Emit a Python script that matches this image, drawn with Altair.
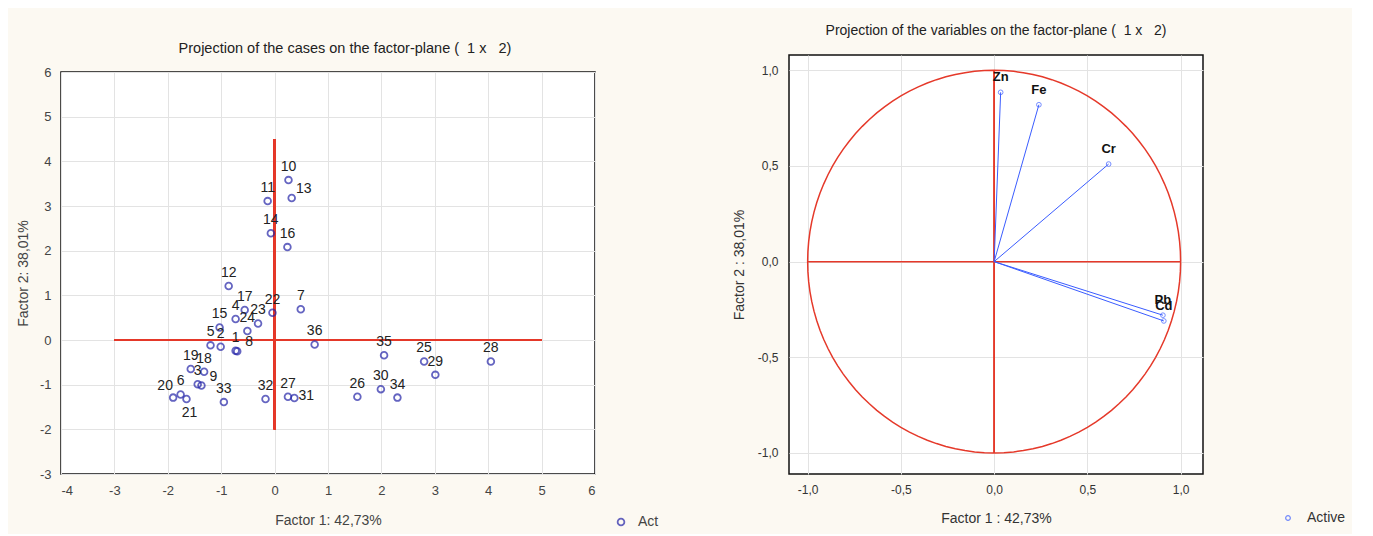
import altair as alt
import pandas as pd

# ---------------- data: cases (left panel) ----------------
case_ids = ["1", "2", "3", "4", "5", "6", "7", "8", "9", "10", "11", "12",
            "13", "14", "15", "16", "17", "18", "19", "20", "21", "22", "23", "24",
            "25", "26", "27", "28", "29", "30", "31", "32", "33", "34", "35", "36"]
case_f1 = [-0.73, -1.01, -1.44, -0.73, -1.20, -1.76, 0.49, -0.70, -1.37, 0.26, -0.13, -0.86,
           0.32, -0.07, -1.03, 0.24, -0.56, -1.32, -1.57, -1.90, -1.65, -0.04, -0.31, -0.51,
           2.80, 1.55, 0.25, 4.05, 3.01, 1.99, 0.37, -0.17, -0.95, 2.30, 2.05, 0.75]
case_f2 = [-0.24, -0.15, -0.99, 0.47, -0.12, -1.22, 0.69, -0.25, -1.02, 3.58, 3.11, 1.21,
           3.18, 2.39, 0.28, 2.08, 0.67, -0.71, -0.65, -1.29, -1.32, 0.61, 0.37, 0.20,
           -0.48, -1.27, -1.27, -0.48, -0.78, -1.10, -1.30, -1.32, -1.39, -1.29, -0.34, -0.10]
case_series = "Act"

# reference cross on the case plot
cross_h = [-3, 5]    # horizontal line extent (at Factor 2 = 0)
cross_v = [-2, 4.5]  # vertical line extent (at Factor 1 = 0)

# ---------------- data: variables (right panel) ----------------
var_names = ["Zn", "Fe", "Cr", "Pb", "Cd"]
var_f1 = [0.035, 0.24, 0.614, 0.905, 0.91]
var_f2 = [0.885, 0.82, 0.51, -0.28, -0.31]
var_series = "Active"

x_ticks_left = [-4, -3, -2, -1, 0, 1, 2, 3, 4, 5, 6]
y_ticks_left = [-3, -2, -1, 0, 1, 2, 3, 4, 5, 6]
ticks_right = [-1.0, -0.5, 0.0, 0.5, 1.0]

NB = "\u00a0"
title_left = f"Projection of the cases on the factor-plane ({NB}{NB}1{NB}x{NB}{NB}{NB}2)"
title_right = f"Projection of the variables on the factor-plane ({NB}{NB}1{NB}x{NB}{NB}{NB}2)"

# label placement (style)
LABEL_RIGHT_UP = ["13", "8", "9"]
LABEL_RIGHT = ["31"]
LABEL_LEFT_UP = ["20"]
LABEL_BELOW = ["21"]

FONT = "Liberation Sans"
RED = "#e5392a"
BLUE_CASE = "#2424a8"
BLUE_VAR = "#3a5cff"

cases = pd.DataFrame({"id": case_ids, "f1": case_f1, "f2": case_f2,
                      "series": case_series})
variables = pd.DataFrame({"name": var_names, "f1": var_f1, "f2": var_f2,
                          "series": var_series})

int_lab = "replace('' + datum.value, '\u2212', '-')"
dec_lab = "replace(replace(format(datum.value, '.1f'), '.', ','), '\u2212', '-')"

# ---------------- left chart ----------------
xl = alt.Scale(domain=[-4, 6], nice=False, zero=False)
yl = alt.Scale(domain=[-3, 6], nice=False, zero=False)

x_axis_l = alt.Axis(values=x_ticks_left, labelExpr=int_lab, title="Factor 1: 42,73%",
                    grid=True, gridColor="#e3e3e3", domain=False, ticks=False,
                    labelFontSize=13, labelColor="#444", labelFont=FONT,
                    labelPadding=10, titleFont=FONT, titleFontSize=14,
                    titleFontWeight="normal", titleColor="#444", titlePadding=16)
y_axis_l = alt.Axis(values=y_ticks_left, labelExpr=int_lab, title="Factor 2: 38,01%",
                    grid=True, gridColor="#e3e3e3", domain=False, ticks=False,
                    labelFontSize=13, labelColor="#444", labelFont=FONT,
                    labelPadding=10, titleFont=FONT, titleFontSize=14,
                    titleFontWeight="normal", titleColor="#444", titlePadding=9)

base_l = alt.Chart(cases)

points_l = base_l.mark_point(shape="circle", filled=False, size=45,
                             strokeWidth=1.8).encode(
    x=alt.X("f1:Q", scale=xl, axis=x_axis_l),
    y=alt.Y("f2:Q", scale=yl, axis=y_axis_l),
    color=alt.Color("series:N", scale=alt.Scale(range=[BLUE_CASE]),
                    legend=alt.Legend(title=None, orient="none", legendX=553,
                                      legendY=460, labelFontSize=14,
                                      labelFont=FONT, labelColor="#444",
                                      symbolStrokeWidth=1.8, symbolSize=45,
                                      symbolType="circle", labelOffset=10)),
)

special = LABEL_RIGHT_UP + LABEL_RIGHT + LABEL_LEFT_UP + LABEL_BELOW
txt_kw = dict(fontSize=14, font=FONT, color="#222")

def lab(chart_filter, **kw):
    return base_l.mark_text(**txt_kw, **kw).encode(
        x=alt.X("f1:Q", scale=xl), y=alt.Y("f2:Q", scale=yl), text="id:N"
    ).transform_filter(chart_filter)

labels_l = alt.layer(
    lab(~alt.FieldOneOfPredicate(field="id", oneOf=special), dy=-13),
    lab(alt.FieldOneOfPredicate(field="id", oneOf=LABEL_RIGHT_UP), dx=12, dy=-9),
    lab(alt.FieldOneOfPredicate(field="id", oneOf=LABEL_RIGHT), dx=12, dy=-2),
    lab(alt.FieldOneOfPredicate(field="id", oneOf=LABEL_LEFT_UP), dx=-8, dy=-12),
    lab(alt.FieldOneOfPredicate(field="id", oneOf=LABEL_BELOW), dx=3, dy=14),
)

hline_l = alt.Chart(cases).mark_rule(color=RED, strokeWidth=1.5).encode(
    x=alt.datum(cross_h[0], scale=xl), x2=alt.datum(cross_h[1]),
    y=alt.datum(0, scale=yl))
vline_l = alt.Chart(cases).mark_rule(color=RED, strokeWidth=1.5).encode(
    y=alt.datum(cross_v[0], scale=yl), y2=alt.datum(cross_v[1]),
    x=alt.datum(0, scale=xl))

left_plot = alt.layer(hline_l, vline_l, points_l, labels_l).properties(
    width=534, height=402)

# title holder above the left plot (keeps the left plot lower than the right one)
left_title = alt.Chart(cases).mark_point(opacity=0).encode(
    x=alt.value(0), y=alt.value(0)
).properties(
    width=534, height=1,
    view=alt.ViewBackground(fillOpacity=0, strokeOpacity=0),
    title=alt.TitleParams(
        text=title_left, fontSize=14.5, fontWeight="normal", font=FONT,
        color="#222", offset=0, dx=17, dy=4),
)

left = alt.vconcat(left_title, left_plot, spacing=7)

# ---------------- right chart ----------------
xr = alt.Scale(domain=[-1.1, 1.12], nice=False, zero=False)
yr = alt.Scale(domain=[-1.11, 1.08], nice=False, zero=False)

x_axis_r = alt.Axis(values=ticks_right, labelExpr=dec_lab, title="Factor 1 : 42,73%",
                    grid=True, gridColor="#e3e3e3", domain=False, ticks=False,
                    labelFontSize=12, labelColor="#333", labelFont=FONT,
                    labelPadding=10, titleFont=FONT, titleFontSize=14,
                    titleFontWeight="normal", titleColor="#333", titlePadding=16)
y_axis_r = alt.Axis(values=ticks_right, labelExpr=dec_lab, title="Factor 2 : 38,01%",
                    grid=True, gridColor="#e3e3e3", domain=False, ticks=False,
                    labelFontSize=12, labelColor="#333", labelFont=FONT,
                    labelPadding=11, titleFont=FONT, titleFontSize=14,
                    titleFontWeight="normal", titleColor="#333", titlePadding=11)

circle = alt.Chart(alt.sequence(0, 361, 3, as_="t")).transform_calculate(
    cx="cos(datum.t * PI / 180)", cy="sin(datum.t * PI / 180)"
).mark_line(color=RED, strokeWidth=1.5).encode(
    x=alt.X("cx:Q", scale=xr, axis=x_axis_r),
    y=alt.Y("cy:Q", scale=yr, axis=y_axis_r),
    order="t:Q",
)

hline_r = alt.Chart(variables).mark_rule(color=RED, strokeWidth=1).encode(
    x=alt.datum(-1, scale=xr), x2=alt.datum(1), y=alt.datum(0, scale=yr))
vline_r = alt.Chart(variables).mark_rule(color=RED, strokeWidth=1).encode(
    y=alt.datum(-1, scale=yr), y2=alt.datum(1), x=alt.datum(0, scale=xr))

base_r = alt.Chart(variables).transform_calculate(o="0")
vectors = base_r.mark_rule(color=BLUE_VAR, strokeWidth=1).encode(
    x=alt.X("o:Q", scale=xr), y=alt.Y("o:Q", scale=yr),
    x2="f1:Q", y2="f2:Q")

points_r = alt.Chart(variables).mark_point(shape="circle", filled=False, size=22,
                                           strokeWidth=1).encode(
    x=alt.X("f1:Q", scale=xr), y=alt.Y("f2:Q", scale=yr),
    color=alt.Color("series:N", scale=alt.Scale(range=[BLUE_VAR]),
                    legend=alt.Legend(title=None, orient="none", legendX=492,
                                      legendY=456, labelFontSize=14,
                                      labelFont=FONT, labelColor="#333",
                                      symbolStrokeWidth=1.2, symbolSize=22,
                                      symbolType="circle", labelOffset=12)),
)

labels_r = alt.Chart(variables).mark_text(
    fontSize=13, font=FONT, color="#111", dy=-15, fontWeight="bold").encode(
    x=alt.X("f1:Q", scale=xr), y=alt.Y("f2:Q", scale=yr), text="name:N")

right = alt.layer(circle, hline_r, vline_r, vectors, points_r, labels_r).properties(
    width=414, height=419,
    title=alt.TitleParams(
        text=title_right,
        fontSize=14, fontWeight="normal", font=FONT, color="#222", offset=17),
)

chart = alt.hconcat(left, right, spacing=72).resolve_scale(
    x="independent", y="independent", color="independent"
).resolve_legend(color="independent").properties(
    background="#fcf9f2",
    padding={"left": 7, "top": 15, "right": 5, "bottom": 5},
).configure_view(fill="white", stroke="#111", strokeWidth=1.5)

chart.save("out.html", embed_options={"renderer": "svg", "actions": False})
